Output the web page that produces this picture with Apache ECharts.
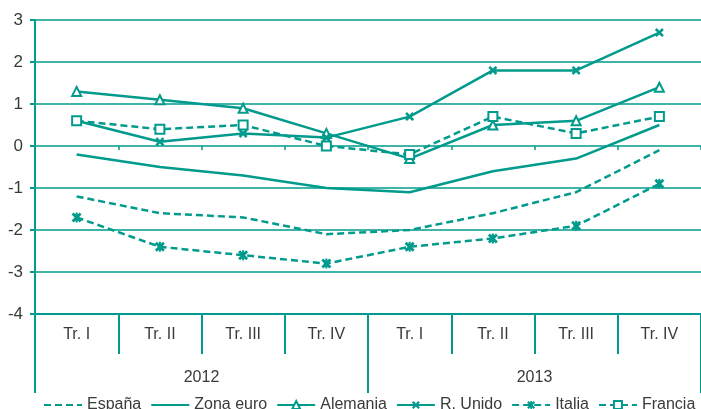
<!DOCTYPE html>
<html>
<head>
<meta charset="utf-8">
<script src="https://cdn.jsdelivr.net/npm/echarts@6/dist/echarts.min.js"></script>
<style>
  html, body { margin: 0; padding: 0; background: #fff; }
  #chart { width: 701px; height: 409px; }
</style>
</head>
<body>
<div id="chart"></div>
<script>
// quarters and years on the two-level axis
const quarters = ['Tr. I', 'Tr. II', 'Tr. III', 'Tr. IV', 'Tr. I', 'Tr. II', 'Tr. III', 'Tr. IV'];
const years = ['2012', '2013'];

const espana = [-1.2, -1.6, -1.7, -2.1, -2.0, -1.6, -1.1, -0.1];
const zonaEuro = [-0.2, -0.5, -0.7, -1.0, -1.1, -0.6, -0.3, 0.5];
const alemania = [1.3, 1.1, 0.9, 0.3, -0.3, 0.5, 0.6, 1.4];
const rUnido = [0.6, 0.1, 0.3, 0.2, 0.7, 1.8, 1.8, 2.7];
const italia = [-1.7, -2.4, -2.6, -2.8, -2.4, -2.2, -1.9, -0.9];
const francia = [0.6, 0.4, 0.5, 0.0, -0.2, 0.7, 0.3, 0.7];

const teal = '#009b8c';
const txt = '#3a3a3a';
const font = 'Liberation Sans';

const noMark = 'path://M0,0L1,1';
const xMark = 'path://M0,2L2,0L5,3L8,0L10,2L7,5L10,8L8,10L5,7L2,10L0,8L3,5Z';
const starMark = 'path://M0,2L2,0L5,3L8,0L10,2L7,5L10,8L8,10L5,7L2,10L0,8L3,5Z' +
  'M4,0H6V10H4Z';

function lineSeries(name, data, dashed, symbol, size) {
  return {
    name: name,
    type: 'line',
    data: data,
    symbol: symbol || noMark,
    symbolSize: size || 9,
    showSymbol: !!symbol,
    lineStyle: { color: teal, width: 2.5, type: dashed ? [7, 4] : 'solid' },
    itemStyle: { color: teal, borderColor: teal, borderWidth: symbol && symbol.indexOf('empty') === 0 ? 2 : 0 },
    emphasis: { disabled: true },
    animation: false
  };
}

var chart = echarts.init(document.getElementById('chart'));

var option = {
  animation: false,
  textStyle: { fontFamily: font },
  grid: [
    { left: 35, right: 0, top: 20, bottom: 95 },
    { left: 35, right: 0, top: 20, bottom: 95 }
  ],
  xAxis: [
    {
      type: 'category', gridIndex: 0, data: quarters, position: 'bottom',
      boundaryGap: true,
      axisLine: { show: true, onZero: false, lineStyle: { color: teal, width: 2 } },
      axisTick: { show: true, interval: 0, length: 40, lineStyle: { color: teal, width: 2 } },
      axisLabel: { color: txt, fontSize: 16, margin: 13, fontFamily: font, interval: 0 }
    },
    {
      // small ticks sitting on the zero line
      type: 'category', gridIndex: 0, data: quarters, position: 'top', offset: -126,
      boundaryGap: true,
      axisLine: { show: false },
      axisTick: { show: true, interval: 0, inside: true, length: 4, lineStyle: { color: teal, width: 1.5 } },
      axisLabel: { show: false }
    },
    {
      type: 'category', gridIndex: 1, data: years, position: 'bottom',
      boundaryGap: true,
      axisLine: { show: false, onZero: false },
      axisTick: { show: true, interval: 0, length: 79, lineStyle: { color: teal, width: 2 } },
      axisLabel: { color: txt, fontSize: 16, margin: 56, fontFamily: font, interval: 0 }
    }
  ],
  yAxis: [
    {
      type: 'value', gridIndex: 0, min: -4, max: 3, interval: 1,
      axisLine: { show: true, lineStyle: { color: teal, width: 2 } },
      axisTick: { show: true, length: 5, lineStyle: { color: teal, width: 2 } },
      splitLine: { show: true, lineStyle: { color: teal, width: 1.5 } },
      axisLabel: { color: txt, fontSize: 17, margin: 12, fontFamily: font }
    },
    {
      type: 'value', gridIndex: 1, min: -4, max: 3, interval: 1,
      show: false
    }
  ],
  legend: {
    left: 43, top: 397, width: 700, padding: 0,
    itemWidth: 38, itemHeight: 10, itemGap: 9,
    textStyle: { color: txt, fontSize: 16, fontFamily: font },
    data: ['España', 'Zona euro', 'Alemania', 'R. Unido', 'Italia', 'Francia']
  },
  series: [
    lineSeries('España', espana, true),
    lineSeries('Zona euro', zonaEuro, false),
    lineSeries('Alemania', alemania, false, 'emptyTriangle', 9),
    lineSeries('R. Unido', rUnido, false, xMark, 9),
    lineSeries('Italia', italia, true, starMark, 10),
    lineSeries('Francia', francia, true, 'emptyRect', 9)
  ]
};

chart.setOption(option);
</script>
</body>
</html>
